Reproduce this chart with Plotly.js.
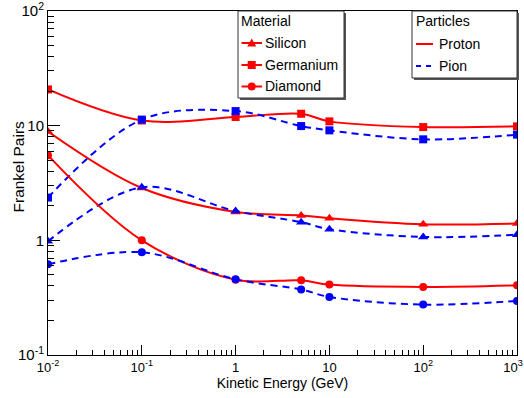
<!DOCTYPE html>
<html>
<head>
<meta charset="utf-8">
<script src="https://cdn.plot.ly/plotly-3.0.1.min.js"></script>
<style>html,body{margin:0;padding:0;background:#fff;}#chart{width:524px;height:398px;}</style>
</head>
<body>
<div id="chart"></div>
<script>
// ---- data ----
const energy = [0.01, 0.1, 1, 5, 10, 100, 1000];
const siliconProton   = [8.9, 2.86, 1.77, 1.65, 1.56, 1.38, 1.40];
const siliconPion     = [0.98, 2.9, 1.80, 1.44, 1.25, 1.07, 1.12];
const germaniumProton = [20.7, 11.1, 11.9, 12.7, 10.9, 9.72, 9.86];
const germaniumPion   = [2.36, 11.3, 13.4, 9.92, 9.1, 7.6, 8.35];
const diamondProton   = [5.51, 1.0, 0.454, 0.448, 0.411, 0.392, 0.405];
const diamondPion     = [0.618, 0.786, 0.457, 0.372, 0.321, 0.275, 0.296];

const xTickVals = [0.01, 0.1, 1, 10, 100, 1000];
const xTickText = ['10<sup>-2</sup>', '10<sup>-1</sup>', '1', '10', '10<sup>2</sup>', '10<sup>3</sup>\u2009\u2009\u2009'];
const yTickVals = [0.1, 1, 10, 100];
const yTickText = ['10<sup>-1</sup>', '1', '10', '10<sup>2</sup>'];

const materials = ['Silicon', 'Germanium', 'Diamond'];
const particles = ['Proton', 'Pion'];

// ---- styling ----
const FONT = 'Liberation Sans, Arial, sans-serif';
const RED = '#ff0000', BLUE = '#0000ff';
const symbols = {Silicon: 'triangle-up', Germanium: 'square', Diamond: 'circle'};
const series = {
  Silicon:   {Proton: siliconProton,   Pion: siliconPion},
  Germanium: {Proton: germaniumProton, Pion: germaniumPion},
  Diamond:   {Proton: diamondProton,   Pion: diamondPion}
};

const traces = [];
materials.forEach(m => {
  particles.forEach(p => {
    const isProton = p === 'Proton';
    traces.push({
      x: energy, y: series[m][p], type: 'scatter', mode: 'lines+markers',
      name: m + ' ' + p, showlegend: false,
      line: {color: isProton ? RED : BLUE, width: 2, dash: isProton ? 'solid' : '7px,5px', shape: 'spline', smoothing: 1},
      marker: {symbol: symbols[m], size: m === 'Silicon' ? 9 : 8, color: isProton ? RED : BLUE}
    });
  });
});

// minor tick positions (2..9 in each decade)
function minors(lo, hi) { const a = []; for (let e = lo; e < hi; e++) for (let k = 2; k <= 9; k++) a.push(k * Math.pow(10, e)); return a; }

// plot area in pixels
const L = 48, R = 517, T = 11, B = 355;
const W = 524, H = 398;
const px = x => (x - L) / (R - L);
const py = y => (B - y) / (B - T);

const shapes = [], annotations = [];
function box(x0, y0, x1, y1) {
  shapes.push({type: 'rect', xref: 'paper', yref: 'paper', x0: px(x0 + 2), x1: px(x1 + 2), y0: py(y0 + 2), y1: py(y1 + 2), line: {width: 0}, fillcolor: '#555', layer: 'above'});
  shapes.push({type: 'rect', xref: 'paper', yref: 'paper', x0: px(x0), x1: px(x1), y0: py(y0), y1: py(y1), line: {width: 1, color: '#333'}, fillcolor: '#fff', layer: 'above'});
}
function label(text, x, y) {
  annotations.push({xref: 'paper', yref: 'paper', x: px(x), y: py(y), xanchor: 'left', yanchor: 'middle', text: text, showarrow: false, font: {family: FONT, size: 14, color: '#000'}});
}
function seg(x0, x1, y, color, dash) {
  shapes.push({type: 'line', xref: 'paper', yref: 'paper', x0: px(x0), x1: px(x1), y0: py(y), y1: py(y), line: {color: color, width: 2, dash: dash || 'solid'}, layer: 'above'});
}
function sym(kind, cx, cy, color) {
  const r = 4;
  if (kind === 'triangle-up') {
    shapes.push({type: 'path', xref: 'paper', yref: 'paper', path: 'M ' + px(cx) + ' ' + py(cy - 4.5) + ' L ' + px(cx - 4.5) + ' ' + py(cy + 3.5) + ' L ' + px(cx + 4.5) + ' ' + py(cy + 3.5) + ' Z', fillcolor: color, line: {width: 0}, layer: 'above'});
  } else {
    shapes.push({type: kind === 'square' ? 'rect' : 'circle', xref: 'paper', yref: 'paper', x0: px(cx - r), x1: px(cx + r), y0: py(cy - r), y1: py(cy + r), fillcolor: color, line: {width: 0}, layer: 'above'});
  }
}

// Material legend
box(238, 11, 344, 98);
label('Material', 239, 21);
const matY = [43, 65, 86.5];
materials.forEach((m, i) => {
  seg(241.5, 262, matY[i], RED);
  sym(symbols[m], 251.7, matY[i], RED);
  label(m, 263, matY[i]);
});
// Particles legend
box(412, 11, 517, 78);
label('Particles', 414, 21);
seg(416, 433, 44, RED);
label('Proton', 437, 44);
seg(416, 433, 66, BLUE, '5px,5px');
label('Pion', 437, 66);

// y-axis title, placed as in the reference (left of axis, slightly above centre)
annotations.push({xref: 'paper', yref: 'paper', x: px(17.5), y: py(167), xanchor: 'center', yanchor: 'middle', textangle: -90,
  text: 'Frankel Pairs', showarrow: false, font: {family: FONT, size: 15.5, color: '#000000'}});

const layout = {
  width: W, height: H,
  margin: {l: L, r: W - R, t: T, b: H - B, pad: 0},
  paper_bgcolor: '#fff', plot_bgcolor: '#fff',
  font: {family: FONT, color: '#000', size: 14},
  showlegend: false,
  xaxis: {
    type: 'log', range: [-2, 3], showline: true, linecolor: '#000', linewidth: 1, mirror: true,
    showgrid: false, zeroline: false,
    ticks: 'inside', ticklen: 10, tickwidth: 1, tickcolor: '#000',
    tickmode: 'array', tickvals: xTickVals, ticktext: xTickText, ticklabeloverflow: 'allow',
    tickfont: {family: FONT, size: 13, color: '#000'},
    minor: {ticks: 'inside', ticklen: 5, tickwidth: 1, tickcolor: '#000', tickmode: 'array', tickvals: minors(-2, 3), showgrid: false},
    title: {text: 'Kinetic Energy (GeV)', font: {family: FONT, size: 14, color: '#000'}, standoff: 3}
  },
  yaxis: {
    type: 'log', range: [-1, 2], showline: true, linecolor: '#000', linewidth: 1, mirror: true,
    showgrid: false, zeroline: false,
    ticks: 'inside', ticklen: 12, tickwidth: 1, tickcolor: '#000',
    tickmode: 'array', tickvals: yTickVals, ticktext: yTickText, ticklabeloverflow: 'allow',
    tickfont: {family: FONT, size: 15, color: '#000'},
    minor: {ticks: 'inside', ticklen: 6, tickwidth: 1, tickcolor: '#000', tickmode: 'array', tickvals: minors(-1, 2), showgrid: false}
  },
  shapes: shapes,
  annotations: annotations
};

Plotly.newPlot('chart', traces, layout, {displayModeBar: false, staticPlot: true});
</script>
</body>
</html>
